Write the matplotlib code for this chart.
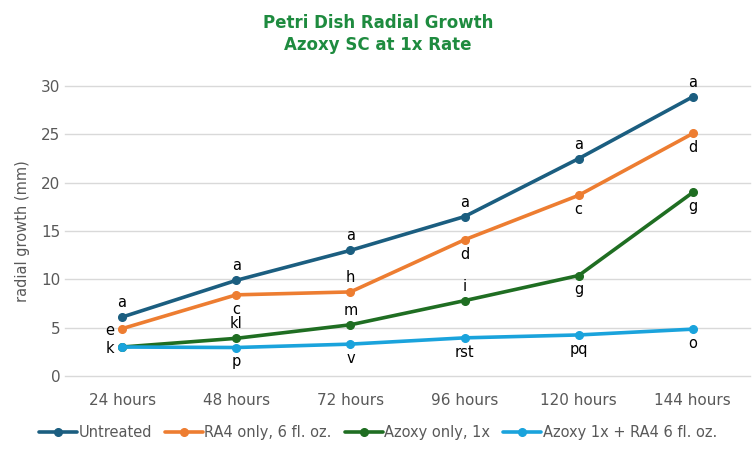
import matplotlib.pyplot as plt
import numpy as np

categories = ["24 hours", "48 hours", "72 hours", "96 hours", "120 hours", "144 hours"]

untreated = [6.1, 9.9, 13.0, 16.5, 22.5, 28.9]
ra4_only = [4.9, 8.4, 8.7, 14.1, 18.7, 25.1]
azoxy_only = [3.0, 3.9, 5.3, 7.8, 10.4, 19.0]
azoxy_ra4 = [3.0, 2.95, 3.3, 3.95, 4.25, 4.85]

untreated_lbl = ["a", "a", "a", "a", "a", "a"]
ra4_lbl = ["e", "c", "h", "d", "c", "d"]
azoxy_lbl = ["", "kl", "m", "i", "g", "g"]
combo_lbl = ["k", "p", "v", "rst", "pq", "o"]

# where each label goes: u=above, d=below, l=left
untreated_pos = ["u"] * 6
ra4_pos = ["l", "d", "u", "d", "d", "d"]
azoxy_pos = ["", "u", "u", "u", "d", "d"]
combo_pos = ["l", "d", "d", "d", "d", "d"]

series = [
    ("Untreated", untreated, untreated_lbl, untreated_pos, "#1B5E80"),
    ("RA4 only, 6 fl. oz.", ra4_only, ra4_lbl, ra4_pos, "#ED7D31"),
    ("Azoxy only, 1x", azoxy_only, azoxy_lbl, azoxy_pos, "#1F6E22"),
    ("Azoxy 1x + RA4 6 fl. oz.", azoxy_ra4, combo_lbl, combo_pos, "#1AA3DC"),
]

fig = plt.figure(figsize=(7.56, 4.58), dpi=100)
ax = fig.add_axes([0.086, 0.179, 0.906, 0.633])

x = np.arange(len(categories))
for name, vals, lbls, pos, col in series:
    ax.plot(x, vals, color=col, lw=2.6, marker="o", markersize=5.5, label=name,
            solid_capstyle="round")
    for xi, v, t, p in zip(x, vals, lbls, pos):
        if not t:
            continue
        if p == "u":
            off, ha, va = (0, 5), "center", "bottom"
        elif p == "d":
            off, ha, va = (0, -5), "center", "top"
        else:
            off, ha, va = (-6, -1), "right", "center"
        ax.annotate(t, (xi, v), xytext=off, textcoords="offset points",
                    ha=ha, va=va, fontsize=10.5, color="#000000")

ax.set_xlim(-0.5, len(categories) - 0.5)
ax.set_ylim(0, 30)
ax.set_yticks([0, 5, 10, 15, 20, 25, 30])
ax.set_xticks(x)
ax.set_xticklabels(categories)
ax.grid(axis="y", color="#D9D9D9", lw=1)
for gl in ax.get_ygridlines():
    gl.set_clip_on(False)
ax.set_axisbelow(True)
for s in ax.spines.values():
    s.set_visible(False)
ax.tick_params(length=0, labelsize=11, labelcolor="#595959")
ax.tick_params(axis="x", pad=12)
ax.set_ylabel("radial growth (mm)", fontsize=10.5, color="#595959", labelpad=8)

fig.text(0.5, 0.925, "Petri Dish Radial Growth\nAzoxy SC at 1x Rate", ha="center", va="center",
         fontsize=12, fontweight="bold", color="#1E8B3F", linespacing=1.3)

fig.legend(loc="center", bbox_to_anchor=(0.5, 0.055), ncol=4, frameon=False,
           fontsize=10.5, handlelength=2.6, handletextpad=0.1, columnspacing=0.9,
           labelcolor="#595959")

fig.savefig("out.png", dpi=100)
